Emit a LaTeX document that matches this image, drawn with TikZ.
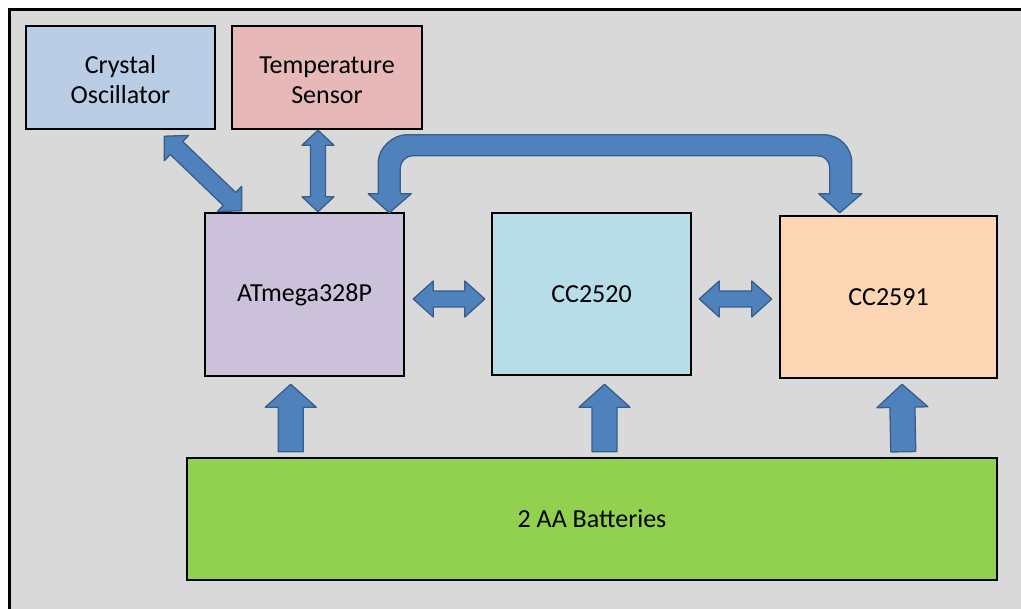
\documentclass[tikz,border=0pt]{standalone}
\usepackage{fontspec}
\setmainfont{Carlito}
\usetikzlibrary{calc}
\definecolor{bgcol}{HTML}{D9D9D9}
\definecolor{cryfill}{HTML}{B9CDE5}
\definecolor{tmpfill}{HTML}{E6B9B8}
\definecolor{atmfill}{HTML}{CCC1DA}
\definecolor{ctwfill}{HTML}{B7DEE8}
\definecolor{cnifill}{HTML}{FCD5B5}
\definecolor{batfill}{HTML}{92D050}
\definecolor{arrowfill}{HTML}{4F81BD}
\definecolor{arrowline}{HTML}{385D8A}
% double-headed block arrow: A, B, shaft half width, head half width, head length
\newcommand\fatdouble[5]{%
  \coordinate (fa1) at ($(#1)!#5!(#2)$);
  \coordinate (fa2) at ($(#2)!#5!(#1)$);
  \filldraw[blockarrow] (#1) -- ($(fa1)!#4!90:(#2)$) -- ($(fa1)!#3!90:(#2)$)
    -- ($(fa2)!#3!-90:(#1)$) -- ($(fa2)!#4!-90:(#1)$) -- (#2)
    -- ($(fa2)!#4!90:(#1)$) -- ($(fa2)!#3!90:(#1)$)
    -- ($(fa1)!#3!-90:(#2)$) -- ($(fa1)!#4!-90:(#2)$) -- cycle;}
% single-headed block arrow: tail A, tip B, shaft half width, head half width, head length
\newcommand\fatsingle[5]{%
  \coordinate (fb1) at ($(#2)!#5!(#1)$);
  \filldraw[blockarrow] ($(#1)!#3!90:(#2)$) -- ($(fb1)!#3!-90:(#1)$)
    -- ($(fb1)!#4!-90:(#1)$) -- (#2) -- ($(fb1)!#4!90:(#1)$)
    -- ($(fb1)!#3!90:(#1)$) -- ($(#1)!#3!-90:(#2)$) -- cycle;}
\begin{document}
\begin{tikzpicture}[x=1pt,y=-1pt,
  box/.style={draw=black, line width=2.5pt, align=center, inner sep=0pt,
    font=\fontsize{26}{30}\selectfont, text=black},
  blockarrow/.style={fill=arrowfill, draw=arrowline, line width=1.3pt, line join=round}]
\useasboundingbox (0,0) rectangle (1021,609);
\fill[white] (0,0) rectangle (1021,609);
\draw[fill=bgcol, line width=3pt] (9.5,9.5) rectangle (1040,630);

\node[box, fill=cryfill, minimum width=189pt, minimum height=103pt] (cry) at (120.5,77.5) {\rule{0pt}{22pt}Crystal\\Oscillator};
\node[box, fill=tmpfill, minimum width=190pt, minimum height=103pt] (tmp) at (327,77.5) {\rule{0pt}{22pt}Temperature\\Sensor};
\node[box, fill=atmfill, minimum width=199pt, minimum height=163pt] (atm) at (304.5,294.5) {ATmega328P};
\node[box, fill=ctwfill, minimum width=199pt, minimum height=162pt] (ctw) at (591.5,294) {CC2520};
\node[box, fill=cnifill, minimum width=217pt, minimum height=162pt] (cni) at (888.5,297) {CC2591};
\node[box, fill=batfill, minimum width=810pt, minimum height=122pt] (bat) at (592,519) {2 AA Batteries};

% crystal <-> atmega
\coordinate (d1) at ($(cry.south east)+(-52,6)$);
\coordinate (d2) at ($(atm.north west)+(38,-1)$);
\fatdouble{d1}{d2}{9pt}{17.5pt}{17pt}
% temperature <-> atmega
\coordinate (t1) at ($(tmp.south)+(-9,0)$);
\coordinate (t2) at ($(atm.north)+(13.5,0)$);
\fatdouble{t1}{t2}{7.5pt}{16pt}{15pt}
% atmega <-> cc2520
\coordinate (h1) at ($(atm.east)+(8,4.5)$);
\coordinate (h2) at ($(ctw.west)+(-6,5)$);
\fatdouble{h1}{h2}{8pt}{18pt}{20pt}
% cc2520 <-> cc2591
\coordinate (h3) at ($(ctw.east)+(7,5)$);
\coordinate (h4) at ($(cni.west)+(-7,2)$);
\fatdouble{h3}{h4}{8pt}{18pt}{20pt}
% batteries -> chips
\coordinate (u1) at ($(bat.north west)+(105,-5)$);
\coordinate (u2) at ($(atm.south west)+(87,7)$);
\fatsingle{u1}{u2}{12.5pt}{25.5pt}{23pt}
\coordinate (u3) at ($(bat.north)+(12.5,-5)$);
\coordinate (u4) at ($(ctw.south)+(13,8)$);
\fatsingle{u3}{u4}{12.5pt}{25.5pt}{23pt}
\coordinate (u5) at ($(bat.north east)+(-95,-5)$);
\coordinate (u6) at ($(cni.south)+(13.5,5)$);
\fatsingle{u5}{u6}{12.5pt}{25.5pt}{23pt}

% curved arrow atmega <-> cc2591
\coordinate (c1) at ($(atm.north east)+(-16,1)$);
\coordinate (c2) at ($(cni.north west)+(61,-2)$);
\filldraw[blockarrow] (c1) -- ($(c1)+(-21,-19)$) -- ($(c1)+(-11,-19)$) -- ($(c1)+(-11,-50)$)
  .. controls ($(c1)+(-11,-65.5)$) and ($(c1)+(4.5,-78)$) .. ($(c1)+(17,-78)$)
  -- ($(c2)+(-16,-78)$)
  .. controls ($(c2)+(-0.5,-78)$) and ($(c2)+(12,-65.5)$) .. ($(c2)+(12,-50)$)
  -- ($(c2)+(12,-19)$) -- ($(c2)+(22,-19)$) -- (c2) -- ($(c2)+(-21,-19)$) -- ($(c2)+(-10,-19)$)
  -- ($(c2)+(-10,-45)$)
  .. controls ($(c2)+(-10,-51.6)$) and ($(c2)+(-15.4,-57)$) .. ($(c2)+(-22,-57)$)
  -- ($(c1)+(23,-57)$)
  .. controls ($(c1)+(17.6,-57)$) and ($(c1)+(11,-51.6)$) .. ($(c1)+(11,-45)$)
  -- ($(c1)+(11,-19)$) -- ($(c1)+(22,-19)$) -- cycle;
\end{tikzpicture}
\end{document}
